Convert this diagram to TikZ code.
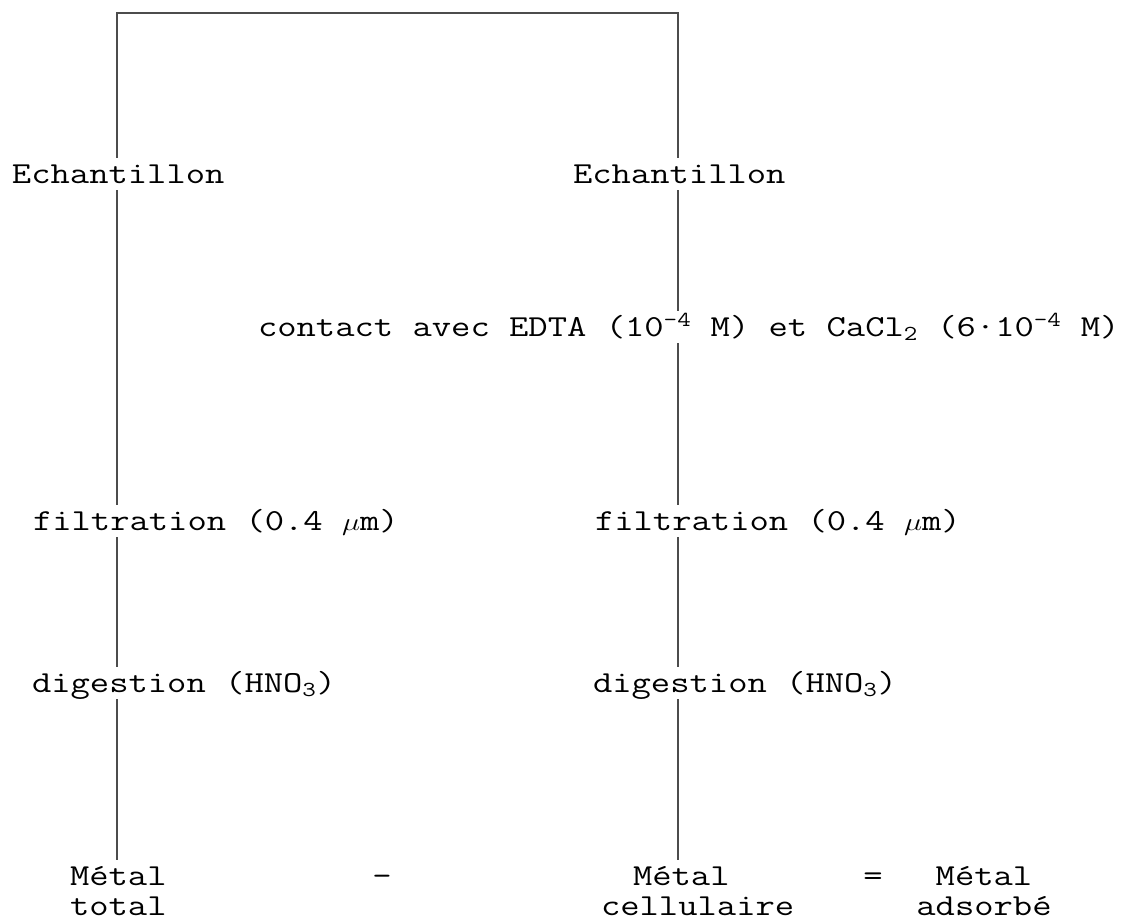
\documentclass[tikz,border=0pt]{standalone}
\usepackage{graphicx}
% typewriter text, widened to a Courier-like pitch
\newcommand\tw[1]{\scalebox{1.23}[1]{#1}}
\tikzset{
  lbl/.style={anchor=base west, inner sep=0pt, outer sep=0pt,
    text height=25pt, text depth=7pt,
    font=\ttfamily\fontsize{30.5}{36}\selectfont},
  lblc/.style={lbl, anchor=base},
  rule/.style={draw=black!70, line width=1.2pt}
}
\begin{document}
\begin{tikzpicture}[x=1pt, y=-1pt]
  \useasboundingbox (0,0) rectangle (1131,920);

  % the two branch lines start from the common top bar
  \coordinate (topL) at (117,13);
  \coordinate (topR) at (678,13);

  % left branch: total metal
  \node[lbl] (echL) at (12,183)  {\tw{Echantillon}};
  \node[lbl] (filL) at (33,530)  {\tw{filtration (0.4 $\mu$m)}};
  \node[lbl] (digL) at (32,692)  {\tw{digestion (HNO\textsubscript{3})}};
  \node[lbl] (metL) at (70,885)  {\tw{Métal}};
  \node[lbl] (totL) at (70,915)  {\tw{total}};

  % right branch: cellular metal after EDTA wash
  \node[lbl] (echR) at (573,183) {\tw{Echantillon}};
  \node[lbl] (con)  at (258,336) {\tw{contact avec EDTA (10\textsuperscript{-4} M) et CaCl\textsubscript{2} (6·10\textsuperscript{-4} M)}};
  \node[lbl] (filR) at (595,530) {\tw{filtration (0.4 $\mu$m)}};
  \node[lbl] (digR) at (593,692) {\tw{digestion (HNO\textsubscript{3})}};
  \node[lbl] (metR) at (633,885) {\tw{Métal}};
  \node[lbl] (celR) at (601,915) {\tw{cellulaire}};

  % balance of the two results
  \node[lblc] (minus) at (382,885) {\tw{-}};
  \node[lblc] (eq)    at (873,885) {\tw{=}};
  \node[lblc] (metA)  at (984,885) {\tw{Métal}};
  \node[lblc] (adsA)  at (984,915) {\tw{adsorbé}};

  % connectors
  \draw[rule] (echL.north -| topL) -- (topL) -- (topR) -- (echR.north -| topR);

  \draw[rule] (echL.south -| topL) -- (filL.north -| topL);
  \draw[rule] (filL.south -| topL) -- (digL.north -| topL);
  \draw[rule] (digL.south -| topL) -- (metL.north -| topL);

  \draw[rule] (echR.south -| topR) -- (con.north -| topR);
  \draw[rule] (con.south -| topR)  -- (filR.north -| topR);
  \draw[rule] (filR.south -| topR) -- (digR.north -| topR);
  \draw[rule] (digR.south -| topR) -- (metR.north -| topR);
\end{tikzpicture}
\end{document}
